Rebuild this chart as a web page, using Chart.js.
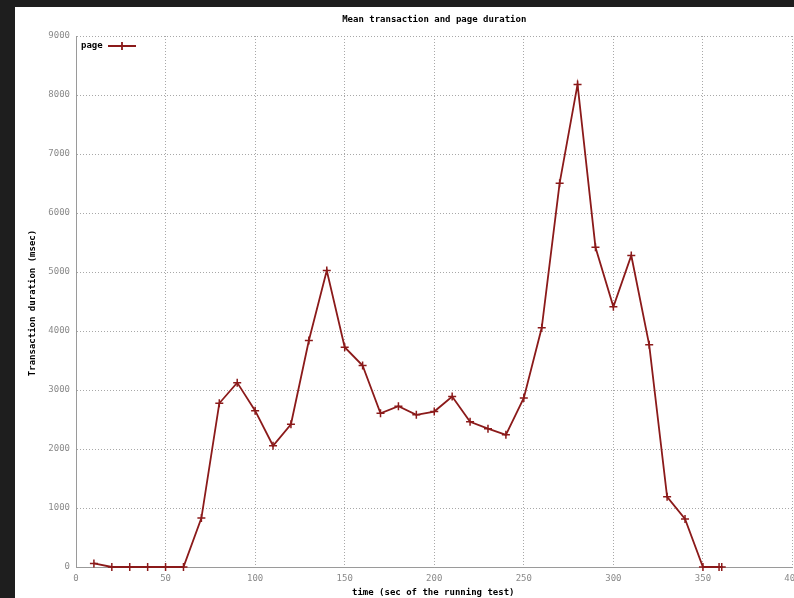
<!DOCTYPE html>
<html>
<head>
<meta charset="utf-8">
<script src="https://cdn.jsdelivr.net/npm/chart.js@4/dist/chart.umd.min.js"></script>
<style>
  html, body { margin: 0; padding: 0; background: #1e1e1e; width: 794px; height: 598px; overflow: hidden; }
  #frame { position: absolute; left: 15px; top: 7px; width: 779px; height: 591px; background: #ffffff; overflow: hidden; }
  canvas { display: block; }
</style>
</head>
<body>
<div id="frame"><canvas id="c" width="783" height="591" style="width:783px;height:591px"></canvas></div>
<script>
const chartTitle = "Mean transaction and page duration";
const xAxisTitle = "time (sec of the running test)";
const yAxisTitle = "Transaction duration (msec)";
const seriesName = "page";
const timeSec = [10, 20, 30, 40, 50, 60, 70, 80, 90, 100, 110, 120, 130, 140, 150, 160, 170, 180, 190, 200, 210, 220, 230, 240, 250, 260, 270, 280, 290, 300, 310, 320, 330, 340, 350, 359, 360.5];
const durationMs = [60, 0, 0, 0, 0, 0, 830, 2775, 3125, 2650, 2055, 2420, 3840, 5025, 3725, 3415, 2605, 2725, 2580, 2635, 2890, 2460, 2345, 2240, 2865, 4055, 6505, 8180, 5420, 4410, 5280, 3765, 1190, 815, 0, 0, 0];
const xTicks = [0, 50, 100, 150, 200, 250, 300, 350, 400];
const yTicks = [0, 1000, 2000, 3000, 4000, 5000, 6000, 7000, 8000, 9000];

const lineColor = "#8b1a1a";
const monoFont = "'DejaVu Sans Mono', 'Liberation Mono', monospace";

const overlay = {
  id: "overlay",
  afterDraw(chart) {
    const ctx = chart.ctx;
    const area = chart.chartArea;
    ctx.save();
    ctx.fillStyle = "#000000";
    ctx.font = "bold 9px " + monoFont;
    ctx.textAlign = "center";
    ctx.textBaseline = "middle";
    ctx.fillText(chartTitle, (area.left + area.right) / 2, 13);
    ctx.fillText(xAxisTitle, (area.left + area.right) / 2 - 1, 586);
    ctx.save();
    ctx.translate(18, 296);
    ctx.rotate(-Math.PI / 2);
    ctx.fillText(yAxisTitle, 0, 0);
    ctx.restore();
    // legend
    ctx.textAlign = "left";
    ctx.fillText(seriesName, area.left + 5, area.top + 10);
    const ly = area.top + 10;
    const lx1 = area.left + 32, lx2 = area.left + 60;
    ctx.strokeStyle = lineColor;
    ctx.lineWidth = 1.8;
    ctx.beginPath();
    ctx.moveTo(lx1, ly); ctx.lineTo(lx2, ly);
    const mx = (lx1 + lx2) / 2;
    ctx.moveTo(mx, ly - 4); ctx.lineTo(mx, ly + 4);
    ctx.stroke();
    ctx.restore();
  }
};

const plainLabel = v => String(v);
const noPadding = () => ({ left: 0, top: 0, right: 0, bottom: 0 });

new Chart(document.getElementById("c"), {
  type: "line",
  data: {
    datasets: [{
      label: seriesName,
      data: timeSec.map((t, i) => ({ x: t, y: durationMs[i] })),
      borderColor: lineColor,
      backgroundColor: lineColor,
      borderWidth: 1.8,
      pointStyle: "cross",
      pointRadius: 4,
      pointBorderWidth: 1.5,
      pointBorderColor: lineColor,
      tension: 0,
      fill: false,
      clip: false
    }]
  },
  options: {
    responsive: false,
    animation: false,
    devicePixelRatio: 1,
    layout: { padding: { top: 29, right: 2, left: 0, bottom: 0 } },
    plugins: { legend: { display: false }, title: { display: false }, tooltip: { enabled: false } },
    scales: {
      x: {
        type: "linear",
        min: 0, max: 400,
        afterBuildTicks(scale) { scale.ticks = xTicks.map(v => ({ value: v })); },
        afterFit(scale) { scale.height = 31; scale.paddingRight = 0; scale.paddingLeft = 0; scale.getPadding = noPadding; },
        ticks: { color: "#8a8a8a", font: { family: monoFont, size: 9 }, padding: 6, maxRotation: 0, autoSkip: false, callback: plainLabel },
        grid: { color: "#a8a8a8", lineWidth: 1, tickLength: 0, drawTicks: false },
        border: { display: true, color: "#9a9a9a", width: 1, dash: [1, 2] }
      },
      y: {
        min: 0, max: 9000,
        afterBuildTicks(scale) { scale.ticks = yTicks.map(v => ({ value: v })); },
        afterFit(scale) { scale.width = 61; scale.paddingTop = 0; scale.paddingBottom = 0; scale.getPadding = noPadding; },
        ticks: { color: "#8a8a8a", font: { family: monoFont, size: 9 }, padding: 6, autoSkip: false, callback: plainLabel },
        grid: { color: "#a8a8a8", lineWidth: 1, tickLength: 0, drawTicks: false },
        border: { display: true, color: "#9a9a9a", width: 1, dash: [1, 2] }
      }
    }
  },
  plugins: [overlay]
});
</script>
</body>
</html>
